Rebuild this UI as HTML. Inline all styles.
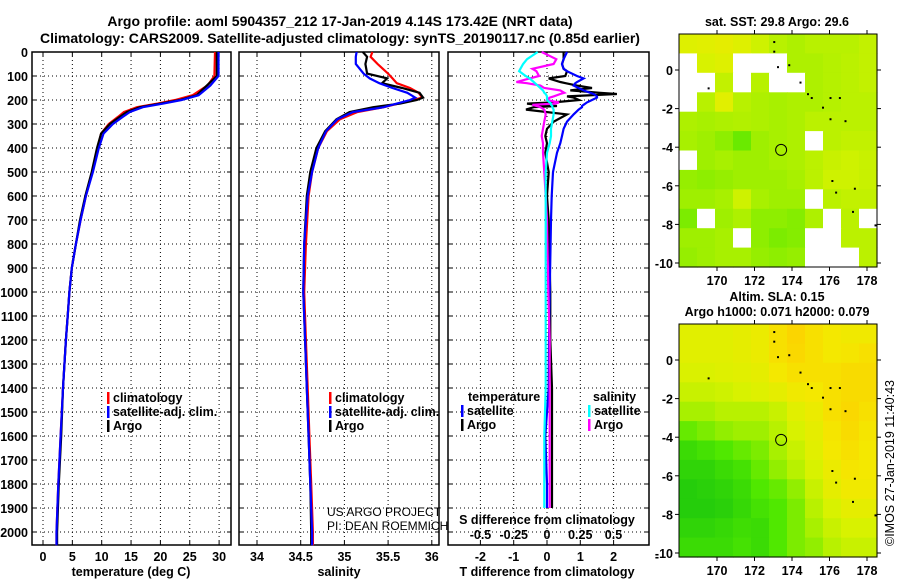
<!DOCTYPE html>
<html><head><meta charset="utf-8"><style>
html,body{margin:0;padding:0;background:#fff;}
svg{display:block;font-family:"Liberation Sans",sans-serif;}
.b{font-weight:bold;}
</style></head><body>
<svg id="chart" width="900" height="580" viewBox="0 0 900 580" xmlns="http://www.w3.org/2000/svg">
<text x="340" y="26" text-anchor="middle" font-size="14" class="b">Argo profile: aoml 5904357_212 17-Jan-2019 4.14S 173.42E (NRT data)</text>
<text x="340" y="43" text-anchor="middle" font-size="14" class="b">Climatology: CARS2009. Satellite-adjusted climatology: synTS_20190117.nc (0.85d earlier)</text>
<g id="g"></g>
</svg>
<script>
// ---------- profile data ----------
const tDepth = [0,100,140,180,200,215,230,250,270,300,340,400,500,600,700,800,900,1000,1100,1200,1400,1600,1800,2000,2055];
const tArgo  = [29.6,29.6,27.9,26.2,23.3,20.0,16.5,14.3,13.1,11.4,9.9,9.2,8.3,7.2,6.3,5.6,4.9,4.5,4.2,3.9,3.4,3.1,2.7,2.4,2.4];
const tClim  = [29.3,29.2,28.0,25.5,22.5,19.5,16.0,13.8,12.8,11.2,9.9,9.3,8.4,7.3,6.4,5.6,4.9,4.5,4.2,3.9,3.4,3.0,2.6,2.3,2.3];
const tSat   = [29.9,29.9,28.5,26.5,23.6,20.5,17.0,14.8,13.6,11.9,10.3,9.5,8.5,7.3,6.4,5.6,4.9,4.5,4.2,3.9,3.4,3.0,2.6,2.3,2.3];
const sDepth = [0,20,50,90,110,130,150,170,190,200,215,230,250,280,330,400,500,600,800,1000,1200,1400,1600,1800,2000,2055];
const sArgo  = [35.21,35.26,35.24,35.26,35.49,35.43,35.66,35.86,35.90,35.83,35.64,35.33,35.06,34.91,34.78,34.68,34.61,34.57,34.54,34.53,34.55,34.57,34.59,34.61,34.62,34.62];
const sClim  = [35.32,35.30,35.38,35.50,35.55,35.60,35.75,35.85,35.89,35.79,35.62,35.45,35.15,34.95,34.80,34.70,34.63,34.59,34.56,34.54,34.56,34.58,34.60,34.62,34.64,34.64];
const sSat   = [35.14,35.13,35.13,35.22,35.29,35.40,35.55,35.72,35.81,35.75,35.60,35.45,35.10,34.92,34.79,34.70,34.63,34.58,34.54,34.53,34.55,34.57,34.59,34.61,34.63,34.63];
const dDepth = [0,30,50,70,80,100,110,125,130,140,150,160,170,175,185,190,200,210,215,220,225,230,240,260,290,320,350,380,420,500,600,700,1000,1200,1400,1600,1800,1900];
const dTArgo = [0.5,0.5,0.45,0.5,0.6,0.55,0.05,0.4,0.56,0.9,1.35,0.7,1.6,2.1,0.6,0.8,0.96,0.2,-0.6,-0.3,0.3,-0.4,-0.63,0.6,0.2,0.0,-0.05,0.0,-0.05,0.05,0.0,0.05,0.1,0.1,0.15,0.15,0.15,0.15];
const dTSat  = [0.6,0.5,0.45,0.5,0.6,0.9,1.1,0.9,0.85,0.8,0.95,1.1,1.3,1.4,1.5,1.5,1.35,1.2,1.15,1.1,1.05,1.05,0.95,0.8,0.6,0.5,0.45,0.4,0.3,0.18,0.14,0.12,0.08,0.06,0.05,-0.05,0.0,0.0];
const dSArgo = [-0.04,0.07,0.05,-0.11,-0.08,-0.06,-0.13,-0.23,-0.15,-0.05,-0.02,0.1,0.13,0.1,0.05,0.02,0.0,0.09,0.06,-0.11,-0.08,-0.05,-0.02,-0.01,-0.02,-0.03,-0.04,-0.03,-0.03,-0.02,-0.01,0.0,0.01,0.02,0.02,0.02,0.02,0.02];
const dSSat  = [-0.07,-0.15,-0.18,-0.2,-0.21,-0.16,-0.13,-0.1,-0.09,-0.07,-0.05,-0.03,-0.02,-0.01,0.0,0.0,0.0,0.02,0.03,0.03,0.04,0.04,0.05,0.05,0.04,0.03,0.03,0.02,0.0,-0.01,-0.01,-0.01,-0.01,-0.01,-0.01,-0.02,-0.02,-0.02];
const depthTicks = [0,100,200,300,400,500,600,700,800,900,1000,1100,1200,1300,1400,1500,1600,1700,1800,1900,2000];
const tTicks = [0,5,10,15,20,25,30];
const sTicks = [34,34.5,35,35.5,36];
const dTTicks = [-2,-1,0,1,2];
const dSTicks = [-0.5,-0.25,0,0.25,0.5];
// ---------- map data ----------
const mapLons = [170,172,174,176,178];
const mapLats = [0,-2,-4,-6,-8,-10];
const slaGrid = [
[.70,.70,.70,.72,.75,.85,.92,.85,.80,.78,.78],
[.70,.70,.70,.72,.75,.85,.90,.85,.80,.82,.85],
[.66,.66,.68,.70,.72,.80,.85,.85,.85,.88,.88],
[.60,.60,.62,.65,.68,.72,.78,.80,.85,.88,.88],
[.50,.50,.55,.55,.55,.60,.70,.75,.85,.90,.85],
[.35,.40,.45,.48,.48,.55,.65,.72,.82,.88,.82],
[.20,.25,.30,.35,.40,.50,.60,.70,.80,.85,.80],
[.15,.15,.20,.25,.35,.45,.55,.65,.75,.82,.80],
[.10,.12,.15,.20,.30,.35,.45,.60,.72,.78,.78],
[.10,.10,.12,.18,.25,.30,.40,.55,.65,.72,.72],
[.15,.15,.18,.22,.20,.30,.40,.50,.60,.65,.65],
[.20,.20,.20,.25,.20,.30,.40,.45,.55,.60,.60]];
const sstGrid = [
[.68,.70,.72,.68,.62,.55,.52,.55,.55,.55,.58],
[ -1,.65,.68, -1, -1, -1,.52,.52,.54,.56,.58],
[ -1, -1,.58, -1,.55, -1, -1,.52,.54,.56,.58],
[ -1,.55,.70,.55,.52,.50,.52,.52,.54,.56,.56],
[.52,.50,.52,.53,.52,.50,.52,.56,.56,.56,.56],
[.50,.48,.44,.36,.48,.50,.52, -1,.56,.58,.58],
[ -1,.48,.50,.48,.48,.50,.52,.56,.60,.62,.60],
[.46,.44,.46,.48,.48,.48,.50,.56,.62,.62,.60],
[.48,.48,.50,.62,.50,.48,.48, -1,.56,.58,.58],
[.40, -1,.48,.52,.44,.44,.42,.52, -1,.56, -1],
[.48,.48,.50, -1,.44,.40,.42, -1, -1,.56,.56],
[.46,.48,.50,.50,.46,.44,.46, -1, -1, -1,.56]];

const NS="http://www.w3.org/2000/svg";
const G=document.getElementById('g');
function el(tag,attrs,parent){const e=document.createElementNS(NS,tag);for(const k in attrs)e.setAttribute(k,attrs[k]);(parent||G).appendChild(e);return e;}
function txt(x,y,s,size,anchor,bold,parent){const t=el('text',{x:x,y:y,'font-size':size,'text-anchor':anchor||'start'},parent);if(bold)t.setAttribute('font-weight','bold');t.textContent=s;return t;}

const yD = d => 52 + d*0.24;
const xT = v => 43 + v*5.87;
const xS = v => 257 + (v-34)*87.4;
const xDT = v => 547 + v*33.3;
const xDS = v => 547 + v*133;
const TOP=52, BOT=545;

function panel(name){
  const g=el('g',{});
  
  
  return g;
}
function grid(g,x0,x1,xs){
  depthTicks.forEach(d=>{if(d>0){const l=el('line',{x1:x0,x2:x1,y1:yD(d),y2:yD(d),stroke:'#000','stroke-width':1,'stroke-dasharray':'1,3'},g);
    }
    el('line',{x1:x0,x2:x0+4,y1:yD(d),y2:yD(d),stroke:'#000'},g);el('line',{x1:x1-4,x2:x1,y1:yD(d),y2:yD(d),stroke:'#000'},g);});
  xs.forEach(x=>{const l=el('line',{x1:x,x2:x,y1:TOP,y2:BOT,stroke:'#000','stroke-width':1,'stroke-dasharray':'1,3'},g);
    
    el('line',{x1:x,x2:x,y1:BOT-4,y2:BOT,stroke:'#000'},g);el('line',{x1:x,x2:x,y1:TOP,y2:TOP+4,stroke:'#000'},g);});
  const f=el('rect',{x:x0,y:TOP,width:x1-x0,height:BOT-TOP,fill:'none',stroke:'#000','stroke-width':1.5},g);
  
}
function series(g,vals,depths,xf,color,name){
  const p=el('polyline',{points:vals.map((v,i)=>xf(v).toFixed(1)+','+yD(depths[i]).toFixed(1)).join(' '),fill:'none',stroke:color,'stroke-width':2.2,'stroke-linejoin':'miter'},g);
  
  
}
function legend(g,x,y,color,label){
  const b=el('rect',{x:x,y:y-10,width:2.5,height:12,fill:color},g);
  
  const t=txt(x+6,y,label,12.5,'start',true,g);
  
}
depthTicks.forEach(d=>{const t=txt(28,yD(d)+5,String(d),12.5,'end',true);
  });

// Panel 1 temperature
const p1=panel('temperature-panel');
grid(p1,32,231,tTicks.map(xT));
series(p1,tClim,tDepth,xT,'#ff0000','climatology-temperature-line');
series(p1,tArgo,tDepth,xT,'#000000','argo-temperature-line');
series(p1,tSat,tDepth,xT,'#0000ff','satellite-temperature-line');
tTicks.forEach(v=>{const t=txt(xT(v),561,String(v),12.5,'middle',true,p1);});
let t1=txt(131,576,'temperature (deg C)',12.5,'middle',true,p1);
legend(p1,107,402,'#ff0000','climatology');
legend(p1,107,416,'#0000ff','satellite-adj. clim.');
legend(p1,107,430,'#000000','Argo');

// Panel 2 salinity
const p2=panel('salinity-panel');
grid(p2,239,439,sTicks.map(xS));
series(p2,sClim,sDepth,xS,'#ff0000','climatology-salinity-line');
series(p2,sArgo,sDepth,xS,'#000000','argo-salinity-line');
series(p2,sSat,sDepth,xS,'#0000ff','satellite-salinity-line');
sTicks.forEach(v=>{const t=txt(xS(v),561,String(v),12.5,'middle',true,p2);});
let t2=txt(339,576,'salinity',12.5,'middle',true,p2);
legend(p2,329,402,'#ff0000','climatology');
legend(p2,329,416,'#0000ff','satellite-adj. clim.');
legend(p2,329,430,'#000000','Argo');
let c1=txt(327,516,'US ARGO PROJECT',12,'start',false,p2);
let c2=txt(327,530,'PI: DEAN ROEMMICH',12,'start',false,p2);

// Panel 3 differences
const p3=panel('difference-panel');
grid(p3,448,649,dTTicks.map(xDT));
series(p3,dTArgo,dDepth,xDT,'#000000','argo-temperature-difference-line');
series(p3,dTSat,dDepth,xDT,'#0000ff','satellite-temperature-difference-line');
series(p3,dSArgo,dDepth,xDS,'#ff00ff','argo-salinity-difference-line');
series(p3,dSSat,dDepth,xDS,'#00ffff','satellite-salinity-difference-line');
dTTicks.forEach(v=>{const t=txt(xDT(v),561,String(v),12.5,'middle',true,p3);});
let t3=txt(547,576,'T difference from climatology',12.5,'middle',true,p3);
let t4=txt(547,524,'S difference from climatology',12.5,'middle',true,p3);
dSTicks.forEach(v=>{const t=txt(xDS(v),539,String(v),12.5,'middle',true,p3);});
let th=txt(468,401,'temperature',12.5,'start',true,p3);
let sh=txt(593,401,'salinity',12.5,'start',true,p3);
legend(p3,461,415,'#0000ff','satellite');
legend(p3,461,429,'#000000','Argo');
legend(p3,588,415,'#00ffff','satellite');
legend(p3,588,429,'#ff00ff','Argo');
let dash=txt(657,561,'-',12.5,'middle',true);

// ---------- maps ----------
function mapColor(v){
  const stops=[[0,[16,192,16]],[0.3,[80,232,0]],[0.5,[168,240,0]],[0.65,[216,242,0]],[0.8,[244,232,0]],[1,[255,200,0]]];
  for(let i=1;i<stops.length;i++){if(v<=stops[i][0]){const a=stops[i-1],b=stops[i],f=(v-a[0])/(b[0]-a[0]);
    return 'rgb('+a[1].map((c,k)=>Math.round(c+(b[1][k]-c)*f)).join(',')+')';}}
  return 'rgb(255,200,0)';
}
function drawMap(y0,gridData,name,title1,title2){
  const X0=679,X1=877,Y1=y0+233;
  const lx=l=>717+(l-170)*18.75, ly=l=>(y0+36)+(-l)*19.3;
  const g=el('g',{});
  
  const rows=gridData.length, cols=gridData[0].length;
  const cw=(X1-X0)/cols, ch=(Y1-y0)/rows;
  gridData.forEach((row,r)=>row.forEach((v,c)=>{
    const rc=el('rect',{x:(X0+c*cw).toFixed(1),y:(y0+r*ch).toFixed(1),width:(cw+0.6).toFixed(1),height:(ch+0.6).toFixed(1),fill:v<0?'#fff':mapColor(v)},g);
    
  }));
  [[173,1.5],[173,1],[173.2,0.2],[173.8,0.3],[174.4,-0.6],[174.8,-1.2],[175,-1.4],[175.6,-1.9],[176,-1.4],[176.5,-1.4],[176,-2.5],[176.8,-2.6],[176.1,-5.7],[176.3,-6.3],[177.3,-6.1],[177.2,-7.3],[178.4,-8],[169.5,-0.9]].forEach(p=>{
    el('rect',{x:lx(p[0]),y:ly(p[1]),width:2,height:2,fill:'#000'},g);});
  const circ=el('circle',{cx:lx(173.42),cy:ly(-4.14),r:5.5,fill:'none',stroke:'#000','stroke-width':1},g);
  
  el('rect',{x:X0,y:y0,width:X1-X0,height:Y1-y0,fill:'none',stroke:'#000','stroke-width':1},g);
  mapLons.forEach(l=>{const x=lx(l);
    el('line',{x1:x,x2:x,y1:y0-4,y2:y0,stroke:'#000'},g);el('line',{x1:x,x2:x,y1:Y1,y2:Y1+4,stroke:'#000'},g);
    const t=txt(x,Y1+18,String(l),12.5,'middle',true,g);});
  mapLats.forEach(l=>{const y=ly(l);
    el('line',{x1:X0-4,x2:X0,y1:y,y2:y,stroke:'#000'},g);el('line',{x1:X1,x2:X1+4,y1:y,y2:y,stroke:'#000'},g);
    const t=txt(X0-6,y+5,String(l),12.5,'end',true,g);});
  const a=txt(777,y0-8-(title2?15:0),title1,12.5,'middle',true,g);
  if(title2){const b=txt(777,y0-8,title2,12.5,'middle',true,g);}
}
drawMap(34,sstGrid,'sst-map','sat. SST: 29.8 Argo: 29.6',null);
drawMap(324,slaGrid,'sla-map','Altim. SLA: 0.15','Argo h1000: 0.071 h2000: 0.079');
const cr=txt(0,0,'©IMOS 27-Jan-2019 11:40:43',12.5,'middle',false);
cr.setAttribute('transform','translate(894,463) rotate(-90)');


</script>
</body></html>
